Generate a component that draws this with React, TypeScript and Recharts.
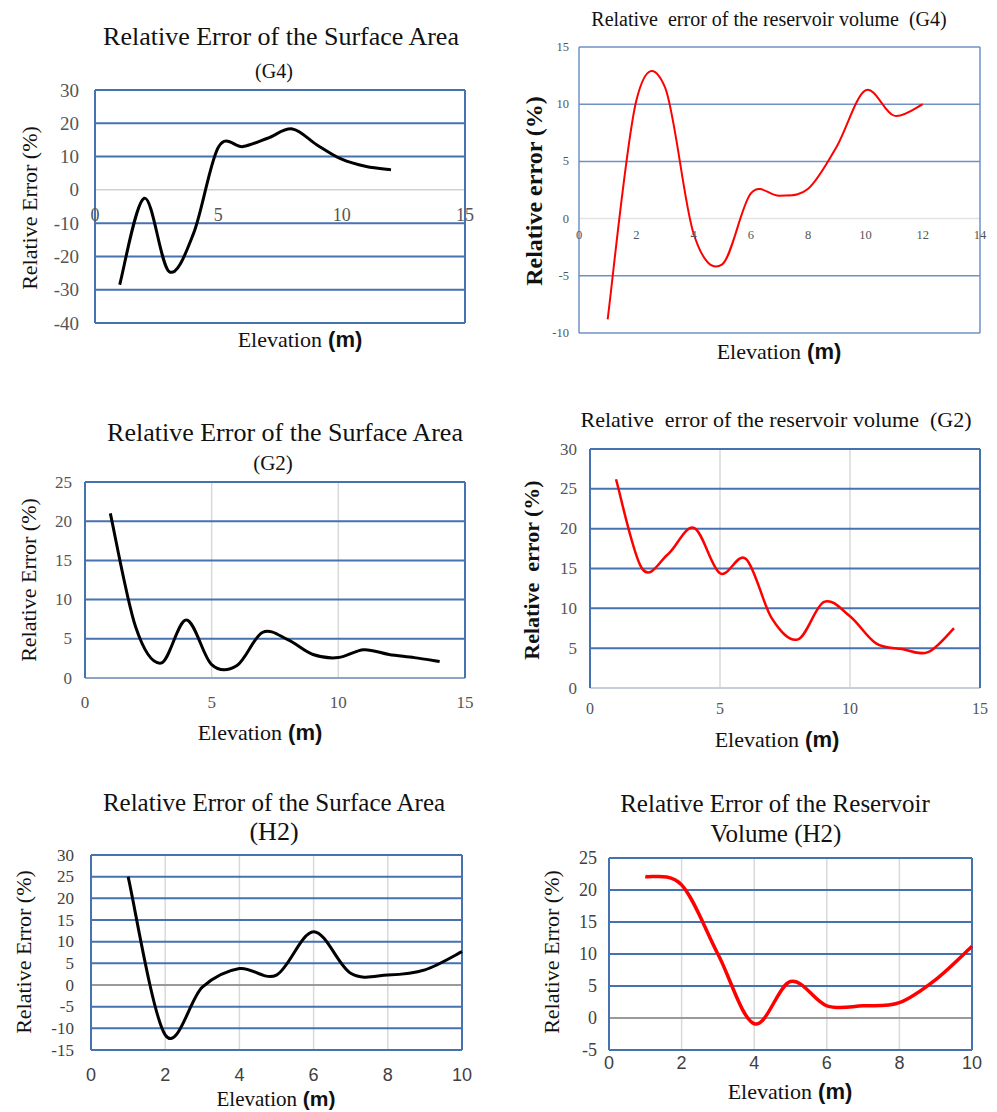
import React from 'react';
import { LineChart, Line, XAxis, YAxis, ReferenceLine } from 'recharts';

const SERIF = '"Liberation Serif", "Times New Roman", serif';
const SANS = '"Liberation Sans", Arial, sans-serif';
const BLUE = '#4672b0';
const LIGHT_GRID = '#d9d9d9';

// ---- data ----
const g4AreaElevation = [1, 2, 3, 4, 5, 6, 7, 8, 9, 10, 11, 12];
const g4AreaError = [-28.5, -2.5, -24.5, -13, 12.8, 13, 15.5, 18.3, 13.5, 9.2, 7, 6];
const g4AreaXTicks = [0, 5, 10, 15];
const g4AreaYTicks = [-40, -30, -20, -10, 0, 10, 20, 30];

const g4VolElevation = [1, 2, 3, 4, 5, 6, 7, 8, 9, 10, 11, 12];
const g4VolError = [-8.8, 10.3, 11.5, -1.3, -4.0, 2.2, 2.0, 2.6, 6.3, 11.2, 9.0, 10.0];
const g4VolXTicks = [0, 2, 4, 6, 8, 10, 12, 14];
const g4VolYTicks = [-10, -5, 0, 5, 10, 15];

const g2AreaElevation = [1, 2, 3, 4, 5, 6, 7, 8, 9, 10, 11, 12, 13, 14];
const g2AreaError = [21, 6.5, 1.9, 7.4, 1.7, 1.6, 5.8, 4.9, 3.0, 2.6, 3.6, 3.0, 2.6, 2.1];
const g2AreaXTicks = [0, 5, 10, 15];
const g2AreaYTicks = [0, 5, 10, 15, 20, 25];

const g2VolElevation = [1, 2, 3, 4, 5, 6, 7, 8, 9, 10, 11, 12, 13, 14];
const g2VolError = [26.2, 15.0, 16.8, 20.1, 14.4, 16.2, 8.7, 6.1, 10.8, 9.0, 5.6, 4.9, 4.5, 7.5];
const g2VolXTicks = [0, 5, 10, 15];
const g2VolYTicks = [0, 5, 10, 15, 20, 25, 30];

const h2AreaElevation = [1, 2, 3, 4, 5, 6, 7, 8, 9, 10];
const h2AreaError = [25, -11.5, -0.5, 3.8, 2.3, 12.3, 2.7, 2.3, 3.5, 7.7];
const h2AreaXTicks = [0, 2, 4, 6, 8, 10];
const h2AreaYTicks = [-15, -10, -5, 0, 5, 10, 15, 20, 25, 30];

const h2VolElevation = [1, 2, 3, 4, 5, 6, 7, 8, 9, 10];
const h2VolError = [22.1, 20.8, 10.0, -0.9, 5.7, 1.9, 1.9, 2.4, 6.0, 11.2];
const h2VolXTicks = [0, 2, 4, 6, 8, 10];
const h2VolYTicks = [-5, 0, 5, 10, 15, 20, 25];

const toRows = (xs: number[], ys: number[]) => xs.map((x, i) => ({ x, y: ys[i] }));

// Excel-style smoothed line (Catmull-Rom through the points)
const excelSmooth = (context: any) => {
  let pts: number[][] = [];
  return {
    areaStart() {},
    areaEnd() {},
    lineStart() {
      pts = [];
    },
    point(x: number, y: number) {
      pts.push([+x, +y]);
    },
    lineEnd() {
      const n = pts.length;
      if (!n) return;
      context.moveTo(pts[0][0], pts[0][1]);
      for (let i = 0; i < n - 1; i++) {
        const p0 = pts[Math.max(i - 1, 0)];
        const p1 = pts[i];
        const p2 = pts[i + 1];
        const p3 = pts[Math.min(i + 2, n - 1)];
        context.bezierCurveTo(
          p1[0] + (p2[0] - p0[0]) / 6,
          p1[1] + (p2[1] - p0[1]) / 6,
          p2[0] - (p3[0] - p1[0]) / 6,
          p2[1] - (p3[1] - p1[1]) / 6,
          p2[0],
          p2[1]
        );
      }
    },
  };
};

const ML = 70, MT = 12, MR = 30, MB = 50;

const panels = [
  {
    id: 'g4-area',
    plot: { left: 95, top: 90, width: 370, height: 233 },
    rows: toRows(g4AreaElevation, g4AreaError),
    xDomain: [0, 15], xTicks: g4AreaXTicks, yDomain: [-40, 30], yTicks: g4AreaYTicks,
    lineColor: '#000', lineWidth: 3,
    gridColor: BLUE, gridWidth: 2, zeroColor: '#d0d0d0', zeroWidth: 1.5, vGrid: false,
    xLabelsAtZero: 25,
    yTickFont: SERIF, yTickSize: 19, yTickGap: 16,
    xTickFont: SERIF, xTickSize: 18, xTickGap: 14, tickColor: '#555',
    titles: [
      { text: 'Relative Error of the Surface Area', x: 281, y: 37, size: 26 },
      { text: '(G4)', x: 274, y: 71, size: 20 },
    ],
    yLabel: { text: 'Relative Error (%)', x: 30, y: 208, size: 22, bold: false },
    xLabel: { x: 300, y: 340, size: 22 },
  },
  {
    id: 'g4-vol',
    plot: { left: 579, top: 47, width: 401, height: 286 },
    rows: toRows(g4VolElevation, g4VolError),
    xDomain: [0, 14], xTicks: g4VolXTicks, yDomain: [-10, 15], yTicks: g4VolYTicks,
    lineColor: '#ff0000', lineWidth: 2,
    gridColor: '#6f90c4', gridWidth: 1.5, zeroColor: '#e3e3e3', zeroWidth: 1.5, vGrid: false,
    xLabelsAtZero: 16,
    yTickFont: SERIF, yTickSize: 12.5, yTickGap: 10,
    xTickFont: SERIF, xTickSize: 12.5, xTickGap: 10, tickColor: '#555',
    titles: [{ text: 'Relative  error of the reservoir volume  (G4)', x: 769, y: 19, size: 20 }],
    yLabel: { text: 'Relative error (%)', x: 534, y: 191, size: 24, bold: true },
    xLabel: { x: 779, y: 352, size: 22 },
  },
  {
    id: 'g2-area',
    plot: { left: 85, top: 482, width: 380, height: 196 },
    rows: toRows(g2AreaElevation, g2AreaError),
    xDomain: [0, 15], xTicks: g2AreaXTicks, yDomain: [0, 25], yTicks: g2AreaYTicks,
    lineColor: '#000', lineWidth: 3,
    gridColor: BLUE, gridWidth: 2, zeroColor: '#8fa3c4', zeroWidth: 2, vGrid: true,
    xLabelsAtZero: null,
    yTickFont: SERIF, yTickSize: 17, yTickGap: 13,
    xTickFont: SERIF, xTickSize: 17, xTickGap: 24, tickColor: '#555',
    titles: [
      { text: 'Relative Error of the Surface Area', x: 285, y: 433, size: 26 },
      { text: '(G2)', x: 273, y: 463, size: 21 },
    ],
    yLabel: { text: 'Relative Error (%)', x: 29, y: 580, size: 22, bold: false },
    xLabel: { x: 260, y: 733, size: 22 },
  },
  {
    id: 'g2-vol',
    plot: { left: 590, top: 449, width: 390, height: 239 },
    rows: toRows(g2VolElevation, g2VolError),
    xDomain: [0, 15], xTicks: g2VolXTicks, yDomain: [0, 30], yTicks: g2VolYTicks,
    lineColor: '#ff0000', lineWidth: 2.5,
    gridColor: BLUE, gridWidth: 2, zeroColor: '#c8cfdc', zeroWidth: 2, vGrid: true,
    xLabelsAtZero: null,
    yTickFont: SERIF, yTickSize: 17, yTickGap: 13,
    xTickFont: SERIF, xTickSize: 16, xTickGap: 20, tickColor: '#555',
    titles: [{ text: 'Relative  error of the reservoir volume  (G2)', x: 776, y: 420, size: 22 }],
    yLabel: { text: 'Relative  error (%)', x: 532, y: 570, size: 22, bold: true },
    xLabel: { x: 777, y: 740, size: 22 },
  },
  {
    id: 'h2-area',
    plot: { left: 91, top: 855, width: 371, height: 195 },
    rows: toRows(h2AreaElevation, h2AreaError),
    xDomain: [0, 10], xTicks: h2AreaXTicks, yDomain: [-15, 30], yTicks: h2AreaYTicks,
    lineColor: '#000', lineWidth: 3,
    gridColor: BLUE, gridWidth: 2, zeroColor: '#9a9a9a', zeroWidth: 2, vGrid: true,
    xLabelsAtZero: null,
    yTickFont: SERIF, yTickSize: 17, yTickGap: 17,
    xTickFont: SANS, xTickSize: 18, xTickGap: 25, tickColor: '#404040',
    titles: [
      { text: 'Relative Error of the Surface Area', x: 274, y: 802, size: 25 },
      { text: '(H2)', x: 274, y: 832, size: 26 },
    ],
    yLabel: { text: 'Relative Error (%)', x: 24, y: 952, size: 22, bold: false },
    xLabel: { x: 276, y: 1099, size: 21 },
  },
  {
    id: 'h2-vol',
    plot: { left: 609, top: 858, width: 363, height: 192 },
    rows: toRows(h2VolElevation, h2VolError),
    xDomain: [0, 10], xTicks: h2VolXTicks, yDomain: [-5, 25], yTicks: h2VolYTicks,
    lineColor: '#ff0000', lineWidth: 3.5,
    gridColor: BLUE, gridWidth: 2, zeroColor: '#9a9a9a', zeroWidth: 2, vGrid: true,
    xLabelsAtZero: null,
    yTickFont: SERIF, yTickSize: 18, yTickGap: 12,
    xTickFont: SANS, xTickSize: 18, xTickGap: 13, tickColor: '#404040',
    titles: [
      { text: 'Relative Error of the Reservoir', x: 775, y: 803, size: 25 },
      { text: 'Volume (H2)', x: 776, y: 833, size: 25 },
    ],
    yLabel: { text: 'Relative Error (%)', x: 552, y: 952, size: 22, bold: false },
    xLabel: { x: 790, y: 1092, size: 22 },
  },
];

const centered = (x: number, y: number): React.CSSProperties => ({
  position: 'absolute',
  left: x,
  top: y,
  transform: 'translate(-50%, -50%)',
  whiteSpace: 'pre',
  lineHeight: 1,
  color: '#111',
});

function Panel({ p }: { p: any }) {
  const { plot } = p;
  const [yMin, yMax] = p.yDomain;
  const [xMin, xMax] = p.xDomain;
  const zeroFromBottom = (plot.height * (0 - yMin)) / (yMax - yMin);
  const labelY = p.xLabelsAtZero != null
    ? MT + plot.height - zeroFromBottom + p.xLabelsAtZero
    : MT + plot.height + p.xTickGap;

  const hLines = p.yTicks.filter((v: number) => v !== 0 && v !== yMin && v !== yMax);
  const vLines = p.xTicks.filter((v: number) => v !== xMin && v !== xMax);
  const zeroIsEdge = yMin === 0;

  return (
    <>
      <div style={{ position: 'absolute', left: plot.left - ML, top: plot.top - MT }}>
        <LineChart
          width={plot.width + ML + MR}
          height={plot.height + MT + MB}
          data={p.rows}
          margin={{ top: MT, right: MR, left: 0, bottom: 0 }}
        >
          <XAxis
            dataKey="x"
            type="number"
            domain={p.xDomain}
            ticks={p.xTicks}
            interval={0}
            height={MB}
            axisLine={false}
            tickLine={false}
            tickSize={0}
            tick={(t: any) => (
              <text
                x={t.x}
                y={labelY}
                textAnchor="middle"
                dominantBaseline="central"
                style={{ fontFamily: p.xTickFont, fontSize: p.xTickSize, fill: p.tickColor }}
              >
                {t.payload.value}
              </text>
            )}
          />
          <YAxis
            type="number"
            domain={p.yDomain}
            ticks={p.yTicks}
            interval={0}
            width={ML}
            axisLine={false}
            tickLine={false}
            tickSize={0}
            tick={(t: any) => (
              <text
                x={ML - p.yTickGap}
                y={t.y}
                textAnchor="end"
                dominantBaseline="central"
                style={{ fontFamily: p.yTickFont, fontSize: p.yTickSize, fill: p.tickColor }}
              >
                {t.payload.value}
              </text>
            )}
          />
          {p.vGrid &&
            vLines.map((v: number) => (
              <ReferenceLine key={`v${v}`} x={v} stroke={LIGHT_GRID} strokeWidth={1.5} />
            ))}
          {!zeroIsEdge && (
            <ReferenceLine y={0} stroke={p.zeroColor} strokeWidth={p.zeroWidth} />
          )}
          {hLines.map((v: number) => (
            <ReferenceLine key={`h${v}`} y={v} stroke={p.gridColor} strokeWidth={p.gridWidth} />
          ))}
          <ReferenceLine y={yMax} stroke={p.gridColor} strokeWidth={p.gridWidth} />
          <ReferenceLine y={yMin} stroke={zeroIsEdge ? p.zeroColor : p.gridColor} strokeWidth={p.gridWidth} />
          <ReferenceLine x={xMin} stroke={p.gridColor} strokeWidth={p.gridWidth} />
          <ReferenceLine x={xMax} stroke={p.gridColor} strokeWidth={p.gridWidth} />
          <Line
            dataKey="y"
            type={excelSmooth as any}
            stroke={p.lineColor}
            strokeWidth={p.lineWidth}
            dot={false}
            activeDot={false}
            isAnimationActive={false}
          />
        </LineChart>
      </div>
      {p.titles.map((t: any) => (
        <div key={t.text} style={{ ...centered(t.x, t.y), fontFamily: SERIF, fontSize: t.size }}>
          {t.text}
        </div>
      ))}
      <div
        style={{
          ...centered(p.yLabel.x, p.yLabel.y),
          transform: 'translate(-50%, -50%) rotate(-90deg)',
          fontFamily: SERIF,
          fontSize: p.yLabel.size,
          fontWeight: p.yLabel.bold ? 700 : 400,
        }}
      >
        {p.yLabel.text}
      </div>
      <div style={{ ...centered(p.xLabel.x, p.xLabel.y), fontSize: p.xLabel.size }}>
        <span style={{ fontFamily: SERIF }}>Elevation</span>
        <span style={{ fontFamily: SANS, fontWeight: 700 }}> (m)</span>
      </div>
    </>
  );
}

export default function App() {
  return (
    <div
      style={{
        position: 'absolute',
        left: 0,
        top: 0,
        width: 997,
        height: 1112,
        background: '#fff',
        overflow: 'hidden',
      }}
    >
      {panels.map((p) => (
        <Panel key={p.id} p={p} />
      ))}
    </div>
  );
}
